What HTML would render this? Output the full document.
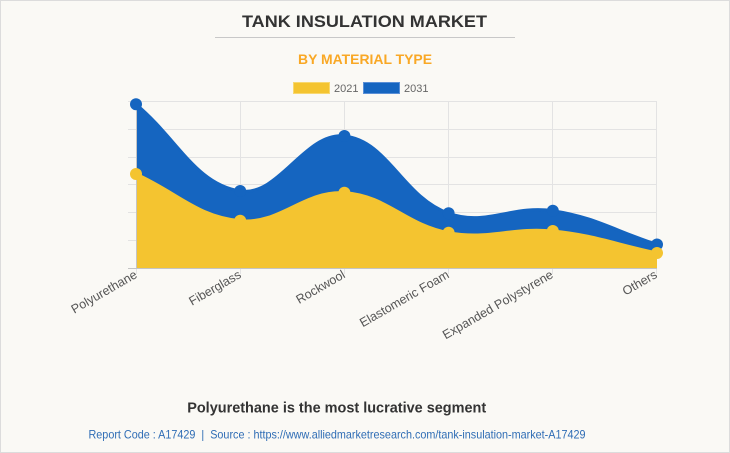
<!DOCTYPE html>
<html>
<head>
<meta charset="utf-8">
<style>
  html,body{margin:0;padding:0;}
  body{width:730px;height:453px;overflow:hidden;background:#faf9f5;}
  svg{display:block;}
  text{font-family:"Liberation Sans",Arial,sans-serif;}
</style>
</head>
<body>
<svg width="730" height="453" viewBox="0 0 730 453" xmlns="http://www.w3.org/2000/svg">
  <rect x="0.5" y="0.5" width="729" height="452" fill="#faf9f5" stroke="#dcdcdc" stroke-width="1"/>

  <!-- Title -->
  <text x="364.5" y="27" text-anchor="middle" font-size="17" font-weight="bold" fill="#333" textLength="245" lengthAdjust="spacingAndGlyphs">TANK INSULATION MARKET</text>
  <line x1="215" y1="37.5" x2="515" y2="37.5" stroke="#c8c8c8" stroke-width="1"/>
  <text x="365" y="64" text-anchor="middle" font-size="14" font-weight="bold" fill="#f9a825" textLength="134" lengthAdjust="spacingAndGlyphs">BY MATERIAL TYPE</text>

  <!-- Legend -->
  <rect x="293.5" y="82.5" width="36" height="11" fill="#f4c430" stroke="#f8d870" stroke-width="1"/>
  <text x="334" y="92" font-size="11" fill="#666">2021</text>
  <rect x="363.5" y="82.5" width="36" height="11" fill="#1565c0" stroke="#5a8fd6" stroke-width="1"/>
  <text x="404" y="92" font-size="11" fill="#666">2031</text>

  <!-- Grid -->
  <g stroke="#e3e3e3" stroke-width="1">
    <line x1="128" y1="101.5" x2="657" y2="101.5"/>
    <line x1="128" y1="129.5" x2="657" y2="129.5"/>
    <line x1="128" y1="157.5" x2="657" y2="157.5"/>
    <line x1="128" y1="184.5" x2="657" y2="184.5"/>
    <line x1="128" y1="212.5" x2="657" y2="212.5"/>
    <line x1="128" y1="240.5" x2="657" y2="240.5"/>
    <line x1="240.5" y1="101" x2="240.5" y2="274"/>
    <line x1="344.5" y1="101" x2="344.5" y2="274"/>
    <line x1="448.5" y1="101" x2="448.5" y2="274"/>
    <line x1="552.5" y1="101" x2="552.5" y2="274"/>
    <line x1="656.5" y1="101" x2="656.5" y2="274"/>
    <line x1="136.5" y1="268" x2="136.5" y2="274"/>
  </g>

  <!-- 2031 area -->
  <path d="M136,104.3 C177.68,138.98 195.6,184.2 240.2,191 C278.96,196.9 304.72,131.75 344.4,136 C388.08,140.67 402.38,196.73 448.6,213.3 C485.74,226.61 512.16,204.62 552.8,210.7 C595.52,217.1 615.32,230.98 657,244.5 L657,268 L136,268 Z" fill="#1565c0"/>
  <path d="M136,104.3 C177.68,138.98 195.6,184.2 240.2,191 C278.96,196.9 304.72,131.75 344.4,136 C388.08,140.67 402.38,196.73 448.6,213.3 C485.74,226.61 512.16,204.62 552.8,210.7 C595.52,217.1 615.32,230.98 657,244.5" fill="none" stroke="#1565c0" stroke-width="3"/>

  <!-- 2021 area -->
  <path d="M136,174 C177.68,192.68 197.33,216.85 240.2,220.7 C280.69,224.33 303.43,190.34 344.4,192.7 C386.79,195.14 405.5,224.78 448.6,232.7 C488.86,240.1 511.58,226.98 552.8,231 C594.94,235.1 615.32,244.2 657,253 L657,268 L136,268 Z" fill="#f4c430"/>
  <path d="M136,174 C177.68,192.68 197.33,216.85 240.2,220.7 C280.69,224.33 303.43,190.34 344.4,192.7 C386.79,195.14 405.5,224.78 448.6,232.7 C488.86,240.1 511.58,226.98 552.8,231 C594.94,235.1 615.32,244.2 657,253" fill="none" stroke="#f4c430" stroke-width="3"/>

  <!-- Axes -->
  <line x1="136.5" y1="101" x2="136.5" y2="268" stroke="#c4c4c4" stroke-width="1"/>
  <line x1="128" y1="268.5" x2="657" y2="268.5" stroke="#c4c4c4" stroke-width="1"/>

  <!-- Points 2031 -->
  <g fill="#1565c0">
    <circle cx="136" cy="104.3" r="6"/>
    <circle cx="240.2" cy="191" r="6"/>
    <circle cx="344.4" cy="136" r="6"/>
    <circle cx="448.6" cy="213.3" r="6"/>
    <circle cx="552.8" cy="210.7" r="6"/>
    <circle cx="657" cy="244.5" r="6"/>
  </g>
  <!-- Points 2021 -->
  <g fill="#f4c430">
    <circle cx="136" cy="174" r="6"/>
    <circle cx="240.2" cy="220.7" r="6"/>
    <circle cx="344.4" cy="192.7" r="6"/>
    <circle cx="448.6" cy="232.7" r="6"/>
    <circle cx="552.8" cy="231" r="6"/>
    <circle cx="657" cy="253" r="6"/>
  </g>

  <!-- X labels -->
  <g font-size="12.5" fill="#555" text-anchor="end">
    <text transform="translate(138,277) rotate(-30)">Polyurethane</text>
    <text transform="translate(242,277) rotate(-30)">Fiberglass</text>
    <text transform="translate(346,277) rotate(-30)">Rockwool</text>
    <text transform="translate(450,277) rotate(-30)">Elastomeric Foam</text>
    <text transform="translate(554,277) rotate(-30)">Expanded Polystyrene</text>
    <text transform="translate(658,277) rotate(-30)">Others</text>
  </g>

  <!-- Footer -->
  <text x="336.7" y="412.7" text-anchor="middle" font-size="15" font-weight="bold" fill="#333" textLength="299" lengthAdjust="spacingAndGlyphs">Polyurethane is the most lucrative segment</text>
  <text x="337" y="438.5" text-anchor="middle" font-size="12" fill="#2f6db5" textLength="497" lengthAdjust="spacingAndGlyphs">Report Code : A17429&#160; |&#160; Source : https://www.alliedmarketresearch.com/tank-insulation-market-A17429</text>
</svg>
</body>
</html>
